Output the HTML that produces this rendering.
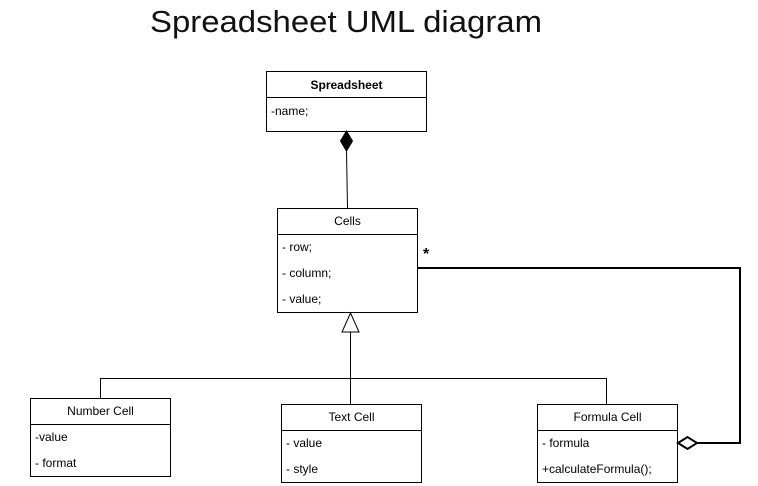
<!DOCTYPE html>
<html><head><meta charset="utf-8"><style>
html,body{margin:0;padding:0;background:#fff;}
svg{display:block;font-family:"Liberation Sans",Arial,sans-serif;}
</style></head><body>
<svg width="758" height="486" viewBox="0 0 758 486" xmlns="http://www.w3.org/2000/svg">
<rect width="758" height="486" fill="#fff"/>
<text x="150" y="32" font-size="31" fill="#111" textLength="392" lengthAdjust="spacingAndGlyphs">Spreadsheet UML diagram</text>

<g stroke="#000" stroke-width="1" fill="#fff">
<rect x="266.5" y="71.5" width="160" height="60"/>
<line x1="266.5" y1="97.5" x2="426.5" y2="97.5"/>
<rect x="277.5" y="208.5" width="140" height="104"/>
<line x1="277.5" y1="234.5" x2="417.5" y2="234.5"/>
<rect x="30.5" y="398.5" width="140" height="78"/>
<line x1="30.5" y1="424.5" x2="170.5" y2="424.5"/>
<rect x="281.5" y="404.5" width="140" height="78"/>
<line x1="281.5" y1="430.5" x2="421.5" y2="430.5"/>
<rect x="537.5" y="404.5" width="140" height="78"/>
<line x1="537.5" y1="430.5" x2="677.5" y2="430.5"/>
</g>

<line x1="346.5" y1="151" x2="347.5" y2="208" stroke="#000"/>
<polygon points="346.5,131 352.5,141 346.5,151 340.5,141" fill="#000" stroke="#000"/>

<polygon points="350.5,313 359,332 342,332" fill="#fff" stroke="#000"/>
<polyline points="350.5,332 350.5,404" fill="none" stroke="#000"/>
<polyline points="100.5,398 100.5,378.5 606.5,378.5 606.5,404" fill="none" stroke="#000"/>

<polyline points="417,268 740,268 740,443 697,443" fill="none" stroke="#000" stroke-width="2"/>
<polygon points="678,443 687.5,437 697,443 687.5,449" fill="#fff" stroke="#000" stroke-width="2"/>
<text x="423" y="259" font-size="16" font-weight="bold" fill="#000">*</text>

<g font-size="12" fill="#000">
<text x="346.5" y="89" text-anchor="middle" font-weight="bold">Spreadsheet</text>
<text x="271" y="115">-name;</text>
<text x="347.5" y="225" text-anchor="middle">Cells</text>
<text x="282" y="251">- row;</text>
<text x="282" y="277">- column;</text>
<text x="282" y="303">- value;</text>
<text x="100.5" y="415" text-anchor="middle">Number Cell</text>
<text x="35" y="441">-value</text>
<text x="35" y="467">- format</text>
<text x="351.5" y="421" text-anchor="middle">Text Cell</text>
<text x="286" y="447">- value</text>
<text x="286" y="473">- style</text>
<text x="607.5" y="421" text-anchor="middle">Formula Cell</text>
<text x="542" y="447">- formula</text>
<text x="542" y="473">+calculateFormula();</text>
</g>
</svg>
</body></html>
